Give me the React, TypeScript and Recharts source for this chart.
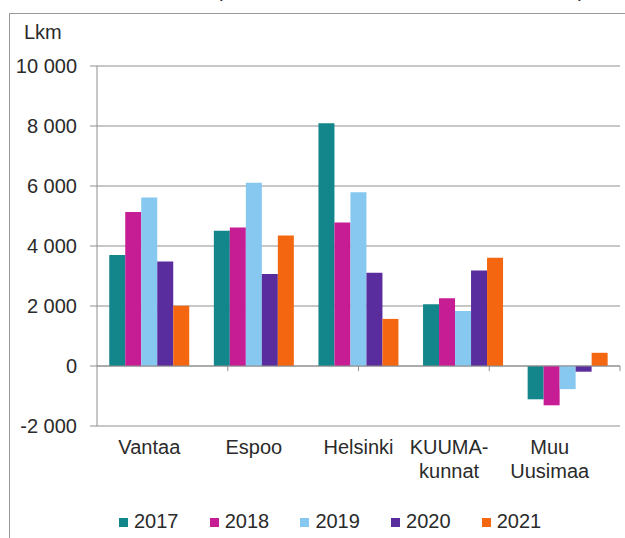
import React from "react";
import {
  BarChart,
  Bar,
  XAxis,
  YAxis,
  CartesianGrid,
  Legend,
  ReferenceLine,
} from "recharts";

const categories = ["Vantaa", "Espoo", "Helsinki", "KUUMA-\nkunnat", "Muu\nUusimaa"];
const years = ["2017", "2018", "2019", "2020", "2021"];
const v2017 = [3700, 4510, 8090, 2060, -1110];
const v2018 = [5130, 4620, 4780, 2260, -1310];
const v2019 = [5620, 6110, 5790, 1830, -770];
const v2020 = [3480, 3070, 3110, 3180, -190];
const v2021 = [2010, 4350, 1570, 3610, 440];
const yTicks = [-2000, 0, 2000, 4000, 6000, 8000, 10000];
const edgeTicks = [1, 2, 3, 4];

const colors = ["#12868a", "#c61d95", "#86c8f0", "#5a2d9e", "#f4660f"];
const FONT = "'Liberation Sans', Arial, sans-serif";
const GRID = "#8f8f8f";
const TEXT = "#2a2a2a";

const seriesValues = [v2017, v2018, v2019, v2020, v2021];
const data = categories.map((c, i) => {
  const row: Record<string, string | number> = { name: c };
  years.forEach((y, k) => {
    row[y] = seriesValues[k][i];
  });
  return row;
});

// 1000-separator with a space, like the original
const fmt = (v: number) => {
  const s = Math.abs(v).toString().replace(/\B(?=(\d{3})+(?!\d))/g, " ");
  return v < 0 ? `-${s}` : s;
};

// the last two labels sit a bit left of the category centre in the original
const labelShift = [0, 0, 0, -14, -18];

const CategoryTick = (props: any) => {
  const { x, y, payload, index } = props;
  const lines = String(payload.value).split("\n");
  const cx = x + (labelShift[index] ?? 0);
  return (
    <text
      x={cx}
      y={y + 28}
      textAnchor="middle"
      fill={TEXT}
      fontSize={20}
      fontFamily={FONT}
    >
      {lines.map((l, i) => (
        <tspan key={i} x={cx} dy={i === 0 ? 0 : 24}>
          {l}
        </tspan>
      ))}
    </text>
  );
};

const LegendContent = () => (
  <div
    style={{
      display: "flex",
      height: 40,
      alignItems: "center",
      paddingLeft: 119,
      paddingTop: 6,
      boxSizing: "border-box",
      fontFamily: FONT,
      fontSize: 20,
      color: TEXT,
    }}
  >
    {years.map((y, i) => (
      <div key={y} style={{ display: "flex", alignItems: "center", width: 90.7 }}>
        <span
          style={{
            display: "inline-block",
            width: 9,
            height: 9,
            background: colors[i],
            marginRight: 6,
            marginTop: 3,
          }}
        />
        <span>{y}</span>
      </div>
    ))}
  </div>
);

export default function App() {
  return (
    <div
      style={{
        position: "absolute",
        left: 0,
        top: 0,
        width: 625,
        height: 538,
        overflow: "hidden",
        background: "#fff",
        fontFamily: FONT,
      }}
    >
      {/* cut-off title remains */}
      <div style={{ position: "absolute", top: -21, left: 216, fontSize: 20, color: TEXT }}>(</div>
      <div style={{ position: "absolute", top: -21, left: 578, fontSize: 20, color: TEXT }}>)</div>
      {/* outer frame */}
      <div
        style={{
          position: "absolute",
          left: 9,
          top: 13,
          width: 640,
          height: 560,
          border: "1px solid #999",
        }}
      />
      <div style={{ position: "absolute", left: 24, top: 21, fontSize: 20, color: TEXT }}>Lkm</div>
      <div style={{ position: "absolute", left: 0, top: 0 }}>
        <BarChart
          width={625}
          height={538}
          data={data}
          margin={{ top: 66, right: 5, left: 0, bottom: 0 }}
          barCategoryGap="11.7%"
          barGap={0}
        >
          <CartesianGrid vertical={false} stroke={GRID} />
          <XAxis
            dataKey="name"
            height={72}
            axisLine={false}
            tickLine={false}
            tickSize={0}
            tickMargin={0}
            interval={0}
            tick={<CategoryTick />}
          />
          <XAxis xAxisId="edge" type="number" domain={[0, 5]} hide />
          <YAxis
            width={97}
            domain={[-2000, 10000]}
            ticks={yTicks}
            interval={0}
            tickFormatter={fmt}
            axisLine={{ stroke: GRID }}
            tickLine={{ stroke: GRID }}
            tickSize={7}
            tickMargin={13}
            tick={{ fill: TEXT, fontSize: 20, fontFamily: FONT }}
          />
          <ReferenceLine y={0} stroke={GRID} />
          <ReferenceLine xAxisId="edge" x={5} stroke={GRID} />
          {edgeTicks.map((t) => (
            <ReferenceLine
              key={t}
              xAxisId="edge"
              segment={[
                { x: t, y: 0 },
                { x: t, y: -170 },
              ]}
              stroke={GRID}
            />
          ))}
          <Legend verticalAlign="bottom" content={<LegendContent />} />
          {years.map((y, i) => (
            <Bar key={y} dataKey={y} fill={colors[i]} isAnimationActive={false} />
          ))}
        </BarChart>
      </div>
    </div>
  );
}
